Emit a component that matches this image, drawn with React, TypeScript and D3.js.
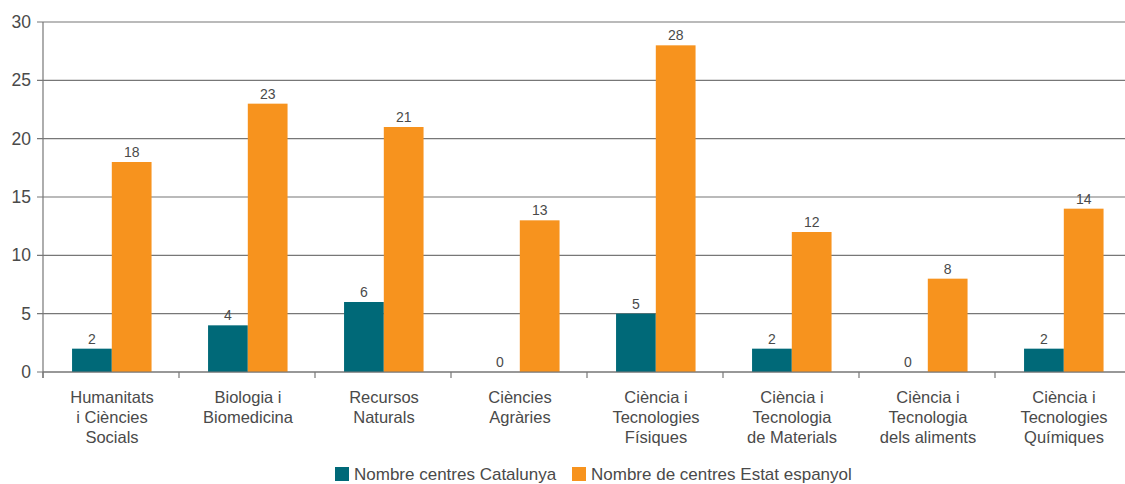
import { useEffect, useRef } from "react";
import * as d3 from "d3";

const categories: string[][] = [
  ["Humanitats", "i Ciències", "Socials"],
  ["Biologia i", "Biomedicina"],
  ["Recursos", "Naturals"],
  ["Ciències", "Agràries"],
  ["Ciència i", "Tecnologies", "Físiques"],
  ["Ciència i", "Tecnologia", "de Materials"],
  ["Ciència i", "Tecnologia", "dels aliments"],
  ["Ciència i", "Tecnologies", "Químiques"],
];
const catalunya: number[] = [2, 4, 6, 0, 5, 2, 0, 2];
const espanya: number[] = [18, 23, 21, 13, 28, 12, 8, 14];
const seriesNames: string[] = ["Nombre centres Catalunya", "Nombre de centres Estat espanyol"];
const yTicks: number[] = [0, 5, 10, 15, 20, 25, 30];

function App() {
  const svgRef = useRef<SVGSVGElement>(null);

  useEffect(() => {
    if (!svgRef.current) return;
    const svg = d3.select(svgRef.current);
    svg.selectAll("*").remove();

    const width = 1125;
    const height = 484;
    svg.attr("width", width).attr("height", height);

    const font = "'Liberation Sans', Arial, sans-serif";
    const textColor = "#4a4a4a";
    const colors = ["#006978", "#f7931e"];

    const left = 43;
    const right = 1131;
    const top = 22;
    const bottom = 372;

    const x = d3
      .scaleBand()
      .domain(categories.map((_, i) => i.toString()))
      .range([left, right]);
    const y = d3.scaleLinear().domain([0, 30]).range([bottom, top]);
    const sub = d3.scaleBand().domain(["0", "1"]).range([0, 79.5]);
    const offset = (x.bandwidth() - 79.5) / 2 + 0.8;

    // gridlines
    svg
      .append("g")
      .selectAll("line")
      .data(yTicks)
      .join("line")
      .attr("x1", left - 6)
      .attr("x2", width)
      .attr("y1", (d) => y(d))
      .attr("y2", (d) => y(d))
      .attr("stroke", "#777")
      .attr("stroke-width", 1.2);

    // y labels
    svg
      .append("g")
      .selectAll("text")
      .data(yTicks)
      .join("text")
      .attr("x", 31)
      .attr("y", (d) => y(d))
      .attr("dy", "0.35em")
      .attr("text-anchor", "end")
      .attr("font-family", font)
      .attr("font-size", 17.5)
      .attr("fill", textColor)
      .text((d) => d);

    // bars
    const series = [catalunya, espanya];
    series.forEach((vals, s) => {
      const g = svg.append("g");
      g.selectAll("rect")
        .data(vals)
        .join("rect")
        .attr("x", (_, i) => x(i.toString())! + offset + sub(s.toString())!)
        .attr("y", (d) => y(d))
        .attr("width", sub.bandwidth())
        .attr("height", (d) => bottom - y(d))
        .attr("fill", colors[s]);
      g.selectAll("text")
        .data(vals)
        .join("text")
        .attr("x", (_, i) => x(i.toString())! + offset + sub(s.toString())! + sub.bandwidth() / 2)
        .attr("y", (d) => y(d) - 5)
        .attr("text-anchor", "middle")
        .attr("font-family", font)
        .attr("font-size", 14)
        .attr("fill", textColor)
        .text((d) => d);
    });

    // axes lines
    svg
      .append("line")
      .attr("x1", left)
      .attr("x2", left)
      .attr("y1", top)
      .attr("y2", bottom + 6)
      .attr("stroke", "#777")
      .attr("stroke-width", 1.2);
    svg
      .append("line")
      .attr("x1", left)
      .attr("x2", width)
      .attr("y1", bottom)
      .attr("y2", bottom)
      .attr("stroke", "#777")
      .attr("stroke-width", 1.2);

    // x ticks
    svg
      .append("g")
      .selectAll("line")
      .data(categories.map((_, i) => i))
      .join("line")
      .attr("x1", (i) => x(i.toString())!)
      .attr("x2", (i) => x(i.toString())!)
      .attr("y1", bottom)
      .attr("y2", bottom + 6)
      .attr("stroke", "#777")
      .attr("stroke-width", 1.2);

    // x labels
    const labels = svg
      .append("g")
      .selectAll("text")
      .data(categories)
      .join("text")
      .attr("x", (_, i) => x(i.toString())! + x.bandwidth() / 2 + 1)
      .attr("y", 397)
      .attr("text-anchor", "middle")
      .attr("font-family", font)
      .attr("font-size", 16.5)
      .attr("fill", textColor);
    labels
      .selectAll("tspan")
      .data((d) => d)
      .join("tspan")
      .attr("x", function () {
        return (this.parentNode as SVGTextElement).getAttribute("x");
      })
      .attr("dy", (_, j) => (j === 0 ? "0.35em" : "20"))
      .text((d) => d);

    // legend
    const legendX = [335, 572];
    seriesNames.forEach((name, s) => {
      svg
        .append("rect")
        .attr("x", legendX[s])
        .attr("y", 467)
        .attr("width", 14)
        .attr("height", 14)
        .attr("fill", colors[s]);
      svg
        .append("text")
        .attr("x", legendX[s] + 19)
        .attr("y", 474)
        .attr("dy", "0.35em")
        .attr("font-family", font)
        .attr("font-size", 17)
        .attr("fill", textColor)
        .text(name);
    });
  }, []);

  return <svg ref={svgRef} style={{ position: "absolute", left: 0, top: 0 }}></svg>;
}

export default App;
